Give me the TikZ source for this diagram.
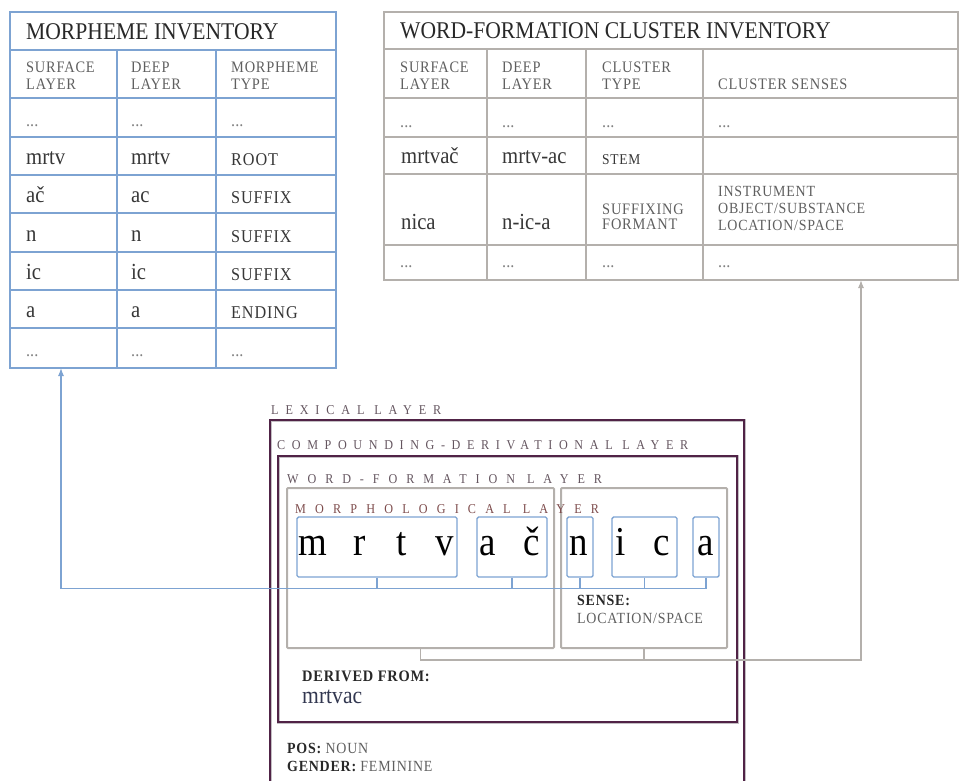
\documentclass[tikz,border=0pt]{standalone}
\usepackage{fontspec}
\setmainfont{Liberation Serif}[FakeStretch=0.9]
\newfontfamily\capsfont{Liberation Serif}[FakeStretch=0.9,LetterSpace=5]
\newfontfamily\layerfont{Liberation Serif}[FakeStretch=0.9]
\usetikzlibrary{arrows.meta}
\definecolor{morphBlue}{RGB}{125,163,210}
\definecolor{clusterGray}{RGB}{180,176,172}
\definecolor{layerPurple}{RGB}{80,35,70}
\definecolor{layerHalo}{RGB}{195,190,195}
\definecolor{titleText}{RGB}{40,40,40}
\definecolor{headText}{RGB}{95,95,95}
\definecolor{valueText}{RGB}{55,55,55}
\definecolor{dotsText}{RGB}{130,130,130}
\definecolor{derivedText}{RGB}{50,55,80}
\definecolor{layerText}{RGB}{100,85,95}
\definecolor{morphText}{RGB}{125,75,75}
\tikzstyle{morphGrid}=[draw=morphBlue, line width=1.6pt]
\tikzstyle{clusterGrid}=[draw=clusterGray, line width=1.6pt]
\tikzstyle{layerFrame}=[draw=layerPurple, line width=1.5pt, preaction={draw=layerHalo, line width=3pt}]
\tikzstyle{clusterFrame}=[shape=rectangle, draw=clusterGray, line width=2pt, rounded corners=1pt, inner sep=0pt, minimum height=160pt]
\tikzstyle{morphBox}=[shape=rectangle, draw=morphBlue, line width=1.4pt, rounded corners=1.5pt, inner sep=0pt, minimum height=60pt]
\tikzstyle{morphLink}=[draw=morphBlue, line width=1.2pt]
\tikzstyle{clusterLink}=[draw=clusterGray, line width=1.2pt]

\begin{document}
\begin{tikzpicture}[x=1pt, y=-1pt]
\tikzstyle{letter}=[anchor=base, inner sep=0pt, font=\fontsize{41}{41}\selectfont]
\tikzstyle{cellTitle}=[anchor=base west, inner sep=0pt, text=titleText, font=\fontsize{24}{24}\selectfont]
\tikzstyle{cellHead}=[anchor=north west, inner sep=0pt, align=left, text=headText, font=\capsfont\fontsize{16}{17}\selectfont]
\tikzstyle{cellValue}=[anchor=base west, inner sep=0pt, text=valueText, font=\fontsize{23}{23}\selectfont]
\tikzstyle{cellType}=[anchor=base west, inner sep=0pt, text=valueText, font=\capsfont\fontsize{18}{18}\selectfont]
\tikzstyle{cellDots}=[anchor=base west, inner sep=0pt, text=dotsText, font=\fontsize{18}{18}\selectfont]
\tikzstyle{cellNote}=[anchor=north west, inner sep=0pt, align=left, text=headText, font=\capsfont\fontsize{15.5}{17}\selectfont]
\tikzstyle{noteText}=[anchor=base west, inner sep=0pt, text=headText, font=\capsfont\fontsize{15.5}{17}\selectfont]
\tikzstyle{layerLabel}=[anchor=base west, inner sep=0pt, text=layerText, font=\layerfont\fontsize{13.5}{13.5}\selectfont]
\useasboundingbox (0,0) rectangle (961,780);
% morpheme inventory
\draw[morphGrid] (10,12) rectangle (336,368);
\draw[morphGrid] (10,50) -- (336,50);
\draw[morphGrid] (10,98) -- (336,98);
\draw[morphGrid] (10,137) -- (336,137);
\draw[morphGrid] (10,175) -- (336,175);
\draw[morphGrid] (10,213) -- (336,213);
\draw[morphGrid] (10,252) -- (336,252);
\draw[morphGrid] (10,290) -- (336,290);
\draw[morphGrid] (10,328) -- (336,328);
\draw[morphGrid] (117,50) -- (117,368);
\draw[morphGrid] (216,50) -- (216,368);
\node[cellTitle] (miTitle) at (26,39) {MORPHEME INVENTORY};
\node[cellHead] (miSurface) at (26,61.5) {SURFACE\\LAYER};
\node[cellHead] (miDeep) at (131,61.5) {DEEP\\LAYER};
\node[cellHead] (miType) at (231,61.5) {MORPHEME\\TYPE};
\node[cellDots] (miDotsA) at (26,126) {...};
\node[cellDots] (miDotsB) at (131,126) {...};
\node[cellDots] (miDotsC) at (231,126) {...};
\node[cellValue] (miRootS) at (26,164) {mrtv};
\node[cellValue] (miRootD) at (131,164) {mrtv};
\node[cellType] (miRootT) at (231,165) {ROOT};
\node[cellValue] (miAcS) at (26,202) {ač};
\node[cellValue] (miAcD) at (131,202) {ac};
\node[cellType] (miAcT) at (231,203) {SUFFIX};
\node[cellValue] (miNS) at (26,241) {n};
\node[cellValue] (miND) at (131,241) {n};
\node[cellType] (miNT) at (231,242) {SUFFIX};
\node[cellValue] (miIcS) at (26,279) {ic};
\node[cellValue] (miIcD) at (131,279) {ic};
\node[cellType] (miIcT) at (231,280) {SUFFIX};
\node[cellValue] (miAS) at (26,317) {a};
\node[cellValue] (miAD) at (131,317) {a};
\node[cellType] (miAT) at (231,318) {ENDING};
\node[cellDots] (miDotsD) at (26,356) {...};
\node[cellDots] (miDotsE) at (131,356) {...};
\node[cellDots] (miDotsF) at (231,356) {...};
\coordinate (morphInv) at (61,368);
% word-formation cluster inventory
\draw[clusterGrid] (384,12) rectangle (958,280);
\draw[clusterGrid] (384,49) -- (958,49);
\draw[clusterGrid] (384,98) -- (958,98);
\draw[clusterGrid] (384,137) -- (958,137);
\draw[clusterGrid] (384,174) -- (958,174);
\draw[clusterGrid] (384,245) -- (958,245);
\draw[clusterGrid] (487,49) -- (487,280);
\draw[clusterGrid] (586,49) -- (586,280);
\draw[clusterGrid] (703,49) -- (703,280);
\node[cellTitle] (ciTitle) at (400,38) {WORD-FORMATION CLUSTER INVENTORY};
\node[cellHead] (ciSurface) at (400,61.5) {SURFACE\\LAYER};
\node[cellHead] (ciDeep) at (502,61.5) {DEEP\\LAYER};
\node[cellHead] (ciType) at (602,61.5) {CLUSTER\\TYPE};
\node[cellHead, anchor=base west] (ciSenses) at (718,89) {CLUSTER SENSES};
\node[cellDots] (ciDotsA) at (400,127) {...};
\node[cellDots] (ciDotsB) at (502,127) {...};
\node[cellDots] (ciDotsC) at (602,127) {...};
\node[cellDots] (ciDotsD) at (718,127) {...};
\node[cellValue] (ciStemS) at (401,163) {mrtvač};
\node[cellValue] (ciStemD) at (502,163) {mrtv-ac};
\node[noteText, text=valueText, font=\capsfont\fontsize{15}{15}\selectfont] (ciStemT) at (602,164) {STEM};
\node[cellValue] (ciNicaS) at (401,229) {nica};
\node[cellValue] (ciNicaD) at (502,229) {n-ic-a};
\node[cellNote, font=\capsfont\fontsize{16}{15}\selectfont] (ciNicaT) at (602,203.5) {SUFFIXING\\FORMANT};
\node[cellNote] (ciNicaSense) at (718,186.5) {INSTRUMENT\\OBJECT/SUBSTANCE\\LOCATION/SPACE};
\node[cellDots] (ciDotsE) at (400,267) {...};
\node[cellDots] (ciDotsF) at (502,267) {...};
\node[cellDots] (ciDotsG) at (602,267) {...};
\node[cellDots] (ciDotsH) at (718,267) {...};
\coordinate (clusterInv) at (861,280);
% lexical layers
\draw[layerFrame] (270,420) rectangle (744,795);
\draw[layerFrame] (278,456) rectangle (737,722);
\node[clusterFrame, minimum width=267pt] (wfL) at (420.5,568) {};
\node[clusterFrame, minimum width=166pt] (wfR) at (644,568) {};
\node[layerLabel] (lexLabel) at (271,414) {\addfontfeatures{LetterSpace=51}LEXICAL LAYER};
\node[layerLabel] (cdLabel) at (277,449) {\addfontfeatures{LetterSpace=49}COMPOUNDING-DERIVATIONAL LAYER};
\node[layerLabel] (wfLabel) at (287,483) {\addfontfeatures{LetterSpace=66}WORD-FORMATION LAYER};
\node[layerLabel, text=morphText] (mlLabel) at (295,513) {\addfontfeatures{LetterSpace=68}MORPHOLOGICAL LAYER};
% morphs
\node[morphBox, minimum width=160pt] (mb1) at (377,547) {};
\node[morphBox, minimum width=70pt] (mb2) at (512,547) {};
\node[morphBox, minimum width=26pt] (mb3) at (580,547) {};
\node[morphBox, minimum width=65pt] (mb4) at (644.5,547) {};
\node[morphBox, minimum width=26pt] (mb5) at (706,547) {};
\node[letter] (l1) at (313,555) {m};
\node[letter] (l2) at (360,555) {r};
\node[letter] (l3) at (402,555) {t};
\node[letter] (l4) at (445,555) {v};
\node[letter] (l5) at (488,555) {a};
\node[letter] (l6) at (532,555) {č};
\node[letter] (l7) at (579,555) {n};
\node[letter] (l8) at (621,555) {i};
\node[letter] (l9) at (662,555) {c};
\node[letter] (l10) at (706,555) {a};
\node[noteText] (senseHead) at (577,605) {\textcolor{titleText}{\bfseries SENSE:}};
\node[noteText] (senseVal) at (577,623) {LOCATION/SPACE};
\node[noteText, text=titleText, font=\capsfont\bfseries\fontsize{16}{16}\selectfont] (derivedHead) at (302,681) {DERIVED FROM:};
\node[anchor=base west, inner sep=0pt, text=derivedText, font=\fontsize{24}{24}\selectfont] (derivedVal) at (302,703) {mrtvac};
\node[noteText] (posVal) at (287,753) {\textcolor{titleText}{\bfseries POS:} NOUN};
\node[noteText] (genderVal) at (287,771) {\textcolor{titleText}{\bfseries GENDER:} FEMININE};
% links
\draw[morphLink] (mb1.south) -- ++(0,11);
\draw[morphLink] (mb2.south) -- ++(0,11);
\draw[morphLink] (mb3.south) -- ++(0,11);
\draw[morphLink] (mb4.south) -- ++(0,11);
\draw[morphLink, -{Latex[length=8pt,width=6pt]}] (mb5.south) -- ++(0,11) -| (morphInv);
\draw[clusterLink] (wfR.south) -- ++(0,11);
\draw[clusterLink, -{Latex[length=8pt,width=6pt]}] (wfL.south) -- ++(0,11) -| (clusterInv);
\end{tikzpicture}
\end{document}
